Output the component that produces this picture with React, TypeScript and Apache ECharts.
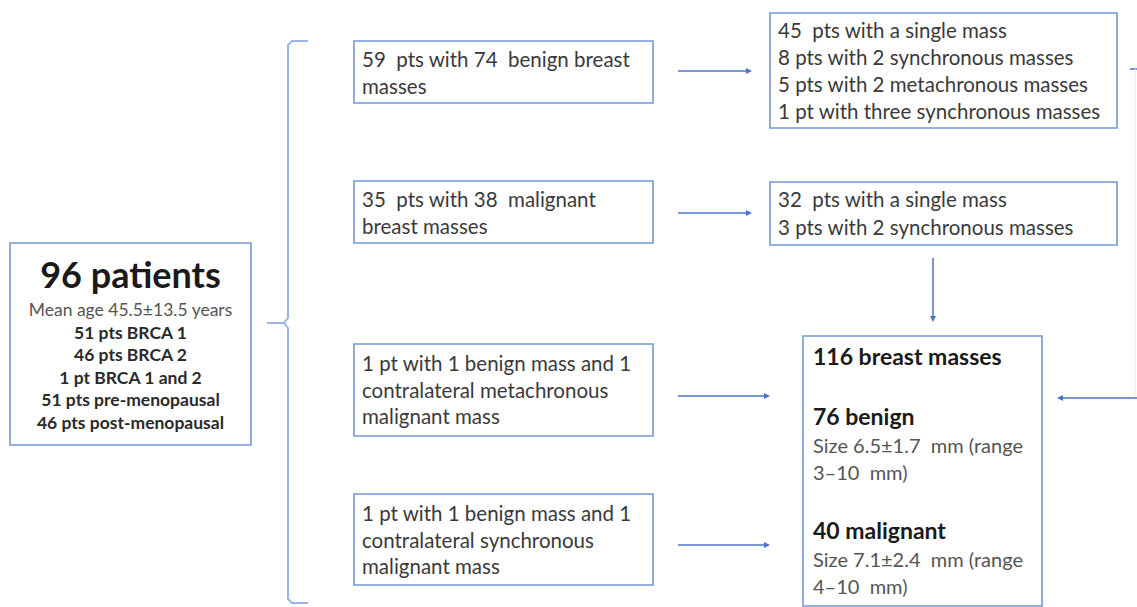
import React, { useEffect, useRef } from "react";
import * as echarts from "echarts";

// ---- content (texts of the flowchart) ----
const patientTitle = "96 patients";
const patientLines = [
  "Mean age 45.5±13.5 years",
  "51 pts BRCA 1",
  "46 pts BRCA 2",
  "1 pt BRCA 1 and 2",
  "51 pts pre-menopausal",
  "46 pts post-menopausal",
];
const benignGroup = ["59  pts with 74  benign breast", "masses"];
const malignantGroup = ["35  pts with 38  malignant", "breast masses"];
const metachronousGroup = ["1 pt with 1 benign mass and 1", "contralateral metachronous", "malignant mass"];
const synchronousGroup = ["1 pt with 1 benign mass and 1", "contralateral synchronous", "malignant mass"];
const benignDetail = [
  "45  pts with a single mass",
  "8 pts with 2 synchronous masses",
  "5 pts with 2 metachronous masses",
  "1 pt with three synchronous masses",
];
const malignantDetail = ["32  pts with a single mass", "3 pts with 2 synchronous masses"];
const summaryTitle = "116 breast masses";
const benignHeading = "76 benign";
const benignSize = ["Size 6.5±1.7  mm (range", "3–10  mm)"];
const malignantHeading = "40 malignant";
const malignantSize = ["Size 7.1±2.4  mm (range", "4–10  mm)"];

// ---- layout / style ----
const FONT = "Lato, 'Open Sans', sans-serif";
const TXT = "#3a3a3a";
const BOX = "#7396d8";
const ARROW = "#4a74c9";
const BRACE = "#9db5e6";
const BODY = 20.5;

function box(x: number, y: number, w: number, h: number): any {
  return {
    type: "rect",
    shape: { x, y, width: w, height: h },
    style: { fill: "#ffffff", stroke: BOX, lineWidth: 1.6 },
  };
}

function text(x: number, y: number, t: string, size: number, opts: any = {}): any {
  return {
    type: "text",
    x,
    y,
    style: {
      text: t,
      fontFamily: FONT,
      fontSize: size,
      fontWeight: opts.bold ? "bold" : "normal",
      fill: opts.fill || TXT,
      align: opts.align || "left",
      verticalAlign: "middle",
    },
  };
}

function lines(x: number, y0: number, step: number, arr: string[], size: number, opts: any = {}): any[] {
  return arr.map((t, i) => text(x, y0 + i * step, t, size, opts));
}

function hArrow(x1: number, x2: number, y: number): any[] {
  const dir = x2 > x1 ? 1 : -1;
  return [
    { type: "line", shape: { x1, y1: y, x2: x2 - dir * 4, y2: y }, style: { stroke: ARROW, lineWidth: 1.5 } },
    {
      type: "polygon",
      shape: { points: [[x2, y], [x2 - dir * 6, y - 3], [x2 - dir * 6, y + 3]] },
      style: { fill: ARROW },
    },
  ];
}

function vArrow(x: number, y1: number, y2: number): any[] {
  return [
    { type: "line", shape: { x1: x, y1, x2: x, y2: y2 - 4 }, style: { stroke: ARROW, lineWidth: 1.5 } },
    {
      type: "polygon",
      shape: { points: [[x, y2], [x - 3, y2 - 6], [x + 3, y2 - 6]] },
      style: { fill: ARROW },
    },
  ];
}

export default function App() {
  const ref = useRef<HTMLDivElement>(null);
  useEffect(() => {
    document.body.style.margin = "0";
    if (!ref.current) return;
    const chart = echarts.init(ref.current, null, { renderer: "svg" });

    const elements: any[] = [];

    // brace
    elements.push({
      type: "polyline",
      shape: { points: [[308, 41], [292, 41], [288, 45], [288, 318], [284, 323], [288, 328], [288, 599], [292, 603], [308, 603]] },
      style: { stroke: BRACE, lineWidth: 2, fill: null },
    });
    elements.push({ type: "line", shape: { x1: 267, y1: 323, x2: 284, y2: 323 }, style: { stroke: BRACE, lineWidth: 2 } });

    // left patient box
    elements.push(box(10, 243, 241, 202));
    elements.push(text(130.5, 274, patientTitle, 36, { bold: true, align: "center", fill: "#1a1a1a" }));
    elements.push(text(130.5, 309, patientLines[0], 17.5, { align: "center", fill: "#555555" }));
    patientLines.slice(1).forEach((t, i) => {
      elements.push(text(130.5, 332 + i * 22.6, t, 17.5, { bold: true, align: "center", fill: "#2a2a2a" }));
    });

    // middle group boxes
    elements.push(box(354, 41, 299, 62));
    elements.push(...lines(362, 59, 27, benignGroup, BODY));
    elements.push(box(354, 181, 299, 62));
    elements.push(...lines(362, 199, 27, malignantGroup, BODY));
    elements.push(box(354, 344, 299, 92));
    elements.push(...lines(362, 363, 26.5, metachronousGroup, BODY));
    elements.push(box(354, 494, 299, 91));
    elements.push(...lines(362, 513, 26.5, synchronousGroup, BODY));

    // arrows from middle boxes
    elements.push(...hArrow(678, 752, 71));
    elements.push(...hArrow(678, 752, 213));
    elements.push(...hArrow(678, 770, 396));
    elements.push(...hArrow(678, 770, 545));

    // right detail boxes
    elements.push(box(770, 13, 347, 115));
    elements.push(...lines(778, 30, 27, benignDetail, BODY));
    elements.push(box(770, 182, 347, 63));
    elements.push(...lines(778, 199, 27.5, malignantDetail, BODY));

    // down arrow to summary
    elements.push(...vArrow(933, 258, 322));

    // summary box
    elements.push(box(803, 336, 239, 270));
    elements.push(text(813, 356, summaryTitle, 23, { bold: true, fill: "#1a1a1a" }));
    elements.push(text(813, 416, benignHeading, 23, { bold: true, fill: "#1a1a1a" }));
    elements.push(...lines(813, 445, 27, benignSize, 20, { fill: "#555555" }));
    elements.push(text(813, 530, malignantHeading, 23, { bold: true, fill: "#1a1a1a" }));
    elements.push(...lines(813, 559, 27, malignantSize, 20, { fill: "#555555" }));

    // return path from the top-right box
    elements.push({ type: "line", shape: { x1: 1130, y1: 69, x2: 1137, y2: 69 }, style: { stroke: ARROW, lineWidth: 1.5 } });
    elements.push({ type: "line", shape: { x1: 1135, y1: 69, x2: 1135, y2: 398 }, style: { stroke: "#e3e9f5", lineWidth: 1 } });
    elements.push(...hArrow(1137, 1057, 398));

    chart.setOption({
      animation: false,
      backgroundColor: "#ffffff",
      graphic: { elements },
    });
    return () => chart.dispose();
  }, []);
  return <div ref={ref} style={{ width: 1137, height: 607 }} />;
}
